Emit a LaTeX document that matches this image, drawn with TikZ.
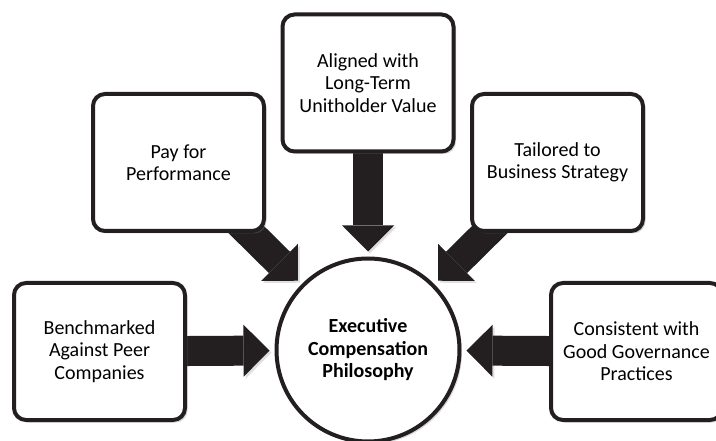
\documentclass[tikz,border=0pt]{standalone}
\usepackage{fontspec}
\setmainfont{Carlito}
\usetikzlibrary{shapes,arrows.meta,positioning,calc,shadows,backgrounds}
\definecolor{printblack}{RGB}{35,31,32}

\tikzset{
    valuebox/.style={draw=printblack, line width=4pt, rounded corners=12pt, fill=white,
        minimum width=171pt, minimum height=137pt, align=center,
        font=\fontsize{20}{22.5}\selectfont,
        drop shadow={shadow xshift=2.5pt, shadow yshift=-2.5pt, opacity=0.3}},
    corecircle/.style={circle, draw=printblack, line width=4pt, fill=white,
        minimum size=183pt, align=center, font=\fontsize{20}{22.5}\selectfont\bfseries,
        drop shadow={shadow xshift=2.5pt, shadow yshift=-2.5pt, opacity=0.3}},
    bigarrow/.style={draw=printblack, line width=30pt,
        -{Triangle[length=26pt, width=52pt, line width=0pt]},
        shorten >=5pt, shorten <=-20pt,
        preaction={draw=black!12, transform canvas={xshift=2pt, yshift=-2pt}}}
}

\begin{document}
\begin{tikzpicture}[x=1pt, y=-1pt]
    \useasboundingbox (0,0) rectangle (716,441);

    % Centre and values
    \node[corecircle] (philosophy) at (368,350) {Executive\\Compensation\\Philosophy};
    \node[valuebox] (aligned) at (368,83) {Aligned with\\Long-Term\\Unitholder Value};
    \node[valuebox] (pay) at (178.5,162.5) {Pay for\\Performance};
    \node[valuebox] (tailored) at (557.5,162.5) {Tailored to\\Business Strategy};
    \node[valuebox] (bench) at (99.5,351.5) {Benchmarked\\Against Peer\\Companies};
    \node[valuebox] (consistent) at (636.5,351.5) {Consistent with\\Good Governance\\Practices};

    % Arrows into the circle
    \begin{pgfonlayer}{background}
        \draw[bigarrow] (aligned) -- (philosophy);
        \draw[bigarrow] (pay) -- (philosophy);
        \draw[bigarrow] (tailored) -- (philosophy);
        \draw[bigarrow] (bench) -- (philosophy);
        \draw[bigarrow] (consistent) -- (philosophy);
    \end{pgfonlayer}
\end{tikzpicture}
\end{document}
